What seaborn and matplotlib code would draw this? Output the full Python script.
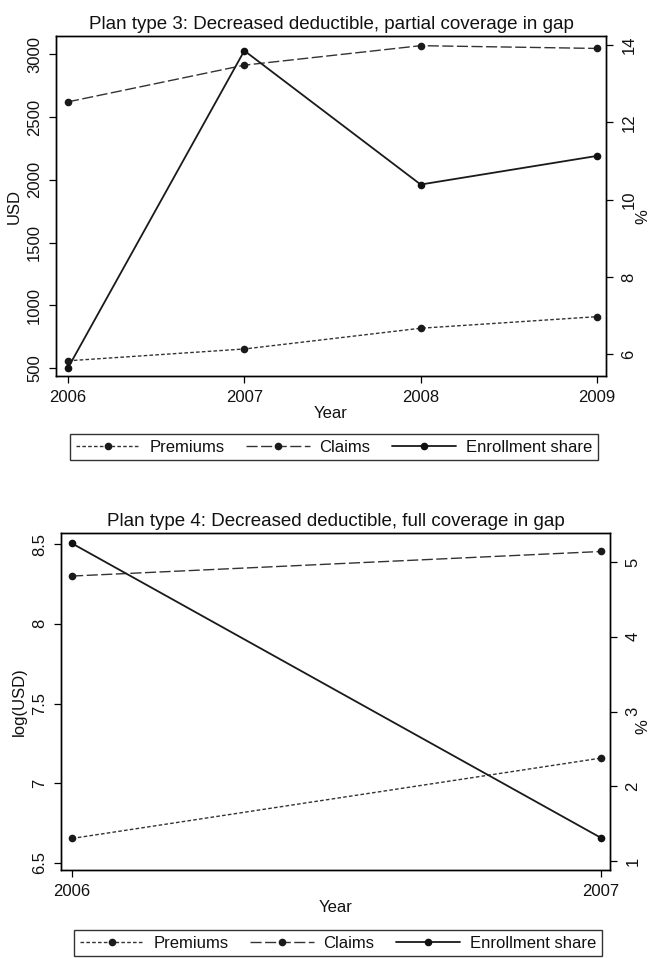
import matplotlib
matplotlib.use("Agg")
import matplotlib.pyplot as plt
import seaborn as sns
import numpy as np
import pandas as pd
from matplotlib.lines import Line2D

# ---- data -------------------------------------------------------------
years_p3 = [2006, 2007, 2008, 2009]
premiums_p3 = [560, 654, 819, 911]          # USD
claims_p3 = [2620, 2912, 3067, 3045]        # USD
enroll_p3 = [5.65, 13.85, 10.39, 11.13]     # %

years_p4 = [2006, 2007]
premiums_p4 = [6.654, 7.158]                # log(USD)
claims_p4 = [8.30, 8.454]                   # log(USD)
enroll_p4 = [5.25, 1.31]                    # %

titles = ["Plan type 3: Decreased deductible, partial coverage in gap",
          "Plan type 4: Decreased deductible, full coverage in gap"]
series_names = ["Premiums", "Claims", "Enrollment share"]

# ---- style ------------------------------------------------------------
sns.set_theme(style="ticks")
plt.rcParams["font.family"] = ["Liberation Sans", "DejaVu Sans"]
plt.rcParams["axes.edgecolor"] = "black"
plt.rcParams["axes.linewidth"] = 1.0
plt.rcParams["text.color"] = "#111111"
plt.rcParams["axes.labelcolor"] = "#111111"
plt.rcParams["xtick.color"] = "#111111"
plt.rcParams["ytick.color"] = "#111111"
FS = 12

prem_style = dict(color="#333333", lw=1.0, ls=(0, (2.6, 1.6)))
claim_style = dict(color="#333333", lw=1.0, ls=(0, (8, 2.5)))
enr_style = dict(color="#1a1a1a", lw=1.3, ls="-")
mk = dict(marker="o", markersize=5.5, markeredgewidth=0)

fig = plt.figure(figsize=(6.5, 9.58), dpi=100)
W, H = 650, 958


def px_axes(l, t, r, b):
    return fig.add_axes([l / W, 1 - b / H, (r - l) / W, (b - t) / H])


def style_axes(ax, ax2):
    for a in (ax, ax2):
        a.tick_params(axis="both", direction="out", length=5, width=0.9,
                      color="black", labelsize=FS, pad=5)
        for s in a.spines.values():
            s.set_color("black")
            s.set_linewidth(1.0)
    ax.tick_params(axis="y", labelrotation=90)
    ax2.tick_params(axis="y", labelrotation=90, pad=6)
    for lab in ax.get_yticklabels() + ax2.get_yticklabels():
        lab.set_va("center")


def panel(ax, years, prem, claims, enr, title, ylab, xlim, ylim, yticks,
          yticklabels, ylim2, yticks2, pct_xy):
    ax2 = ax.twinx()
    df = pd.DataFrame({"Year": years, "Premiums": prem, "Claims": claims,
                       "Enroll": enr})
    sns.lineplot(data=df, x="Year", y="Premiums", ax=ax, markerfacecolor="#1a1a1a",
                 **prem_style, **mk)
    sns.lineplot(data=df, x="Year", y="Claims", ax=ax, markerfacecolor="#1a1a1a",
                 **claim_style, **mk)
    sns.lineplot(data=df, x="Year", y="Enroll", ax=ax2, markerfacecolor="#111111",
                 **enr_style, **mk)
    ax.set_xlim(*xlim)
    ax.set_xticks(years)
    ax.set_xticklabels([str(y) for y in years])
    ax.set_ylim(*ylim)
    ax.set_yticks(yticks)
    ax.set_yticklabels(yticklabels)
    ax2.set_ylim(*ylim2)
    ax2.set_yticks(yticks2)
    ax2.set_yticklabels([str(v) for v in yticks2])
    ax.set_xlabel("Year", fontsize=FS, labelpad=1)
    ax.set_ylabel(ylab, fontsize=FS, labelpad=4)
    ax2.set_ylabel("%", fontsize=FS, rotation=90)
    ax2.yaxis.set_label_coords(*pct_xy)
    ax.set_title(title, fontsize=13.5, pad=5)
    ax.grid(False)
    ax2.grid(False)
    style_axes(ax, ax2)
    return ax2


def legend(cx, cy):
    handles = [
        Line2D([], [], markerfacecolor="#1a1a1a", **prem_style, **mk),
        Line2D([], [], markerfacecolor="#1a1a1a", **claim_style, **mk),
        Line2D([], [], markerfacecolor="#111111", **enr_style, **mk),
    ]
    leg = fig.legend(handles, series_names, loc="center",
                     bbox_to_anchor=(cx / W, 1 - cy / H), ncol=3,
                     fontsize=FS, frameon=True, fancybox=False, numpoints=1,
                     handlelength=3.8, handletextpad=0.6, columnspacing=1.3,
                     borderpad=0.35, edgecolor="black")
    leg.get_frame().set_linewidth(1.0)


ax_top = px_axes(56, 36, 606, 376)
panel(ax_top, years_p3, premiums_p3, claims_p3, enroll_p3, titles[0], "USD",
      (2005.932, 2009.051), (439, 3144), [500, 1000, 1500, 2000, 2500, 3000],
      ["500", "1000", "1500", "2000", "2500", "3000"],
      (5.44, 14.23), [6, 8, 10, 12, 14], (1.053, 0.47))
legend(334, 447)

ax_bot = px_axes(61, 533, 610, 870)
panel(ax_bot, years_p4, premiums_p4, claims_p4, enroll_p4, titles[1], "log(USD)",
      (2005.979, 2007.017), (6.456, 8.57), [6.5, 7, 7.5, 8, 8.5],
      ["6.5", "7", "7.5", "8", "8.5"],
      (0.88, 5.39), [1, 2, 3, 4, 5], (1.047, 0.425))
legend(338, 943)

fig.savefig("out.png", dpi=100, facecolor="white")
